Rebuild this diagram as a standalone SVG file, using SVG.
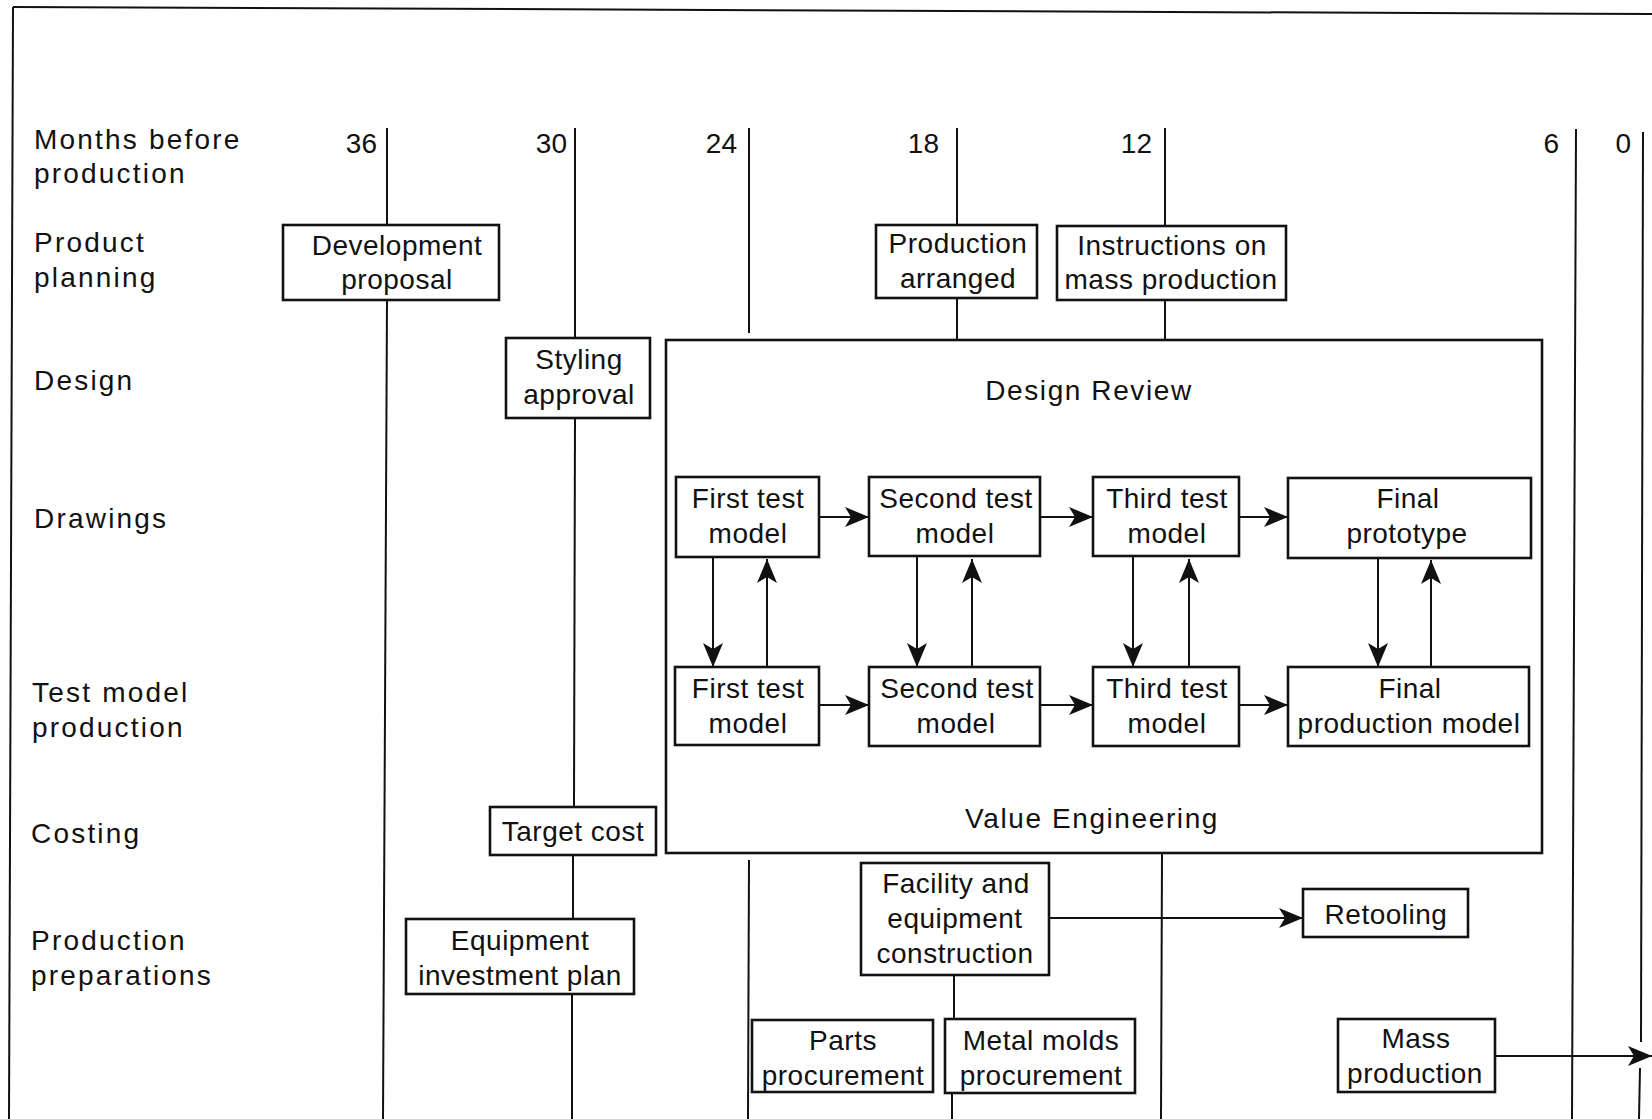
<svg xmlns="http://www.w3.org/2000/svg" width="1652" height="1119" viewBox="0 0 1652 1119">
<style>
.lbl{font-family:"Liberation Sans",Arial,sans-serif;font-size:28px;letter-spacing:2.2px;fill:#111}
.num{font-family:"Liberation Sans",Arial,sans-serif;font-size:28px;fill:#111;text-anchor:end}
.t{font-family:"Liberation Sans",Arial,sans-serif;font-size:28px;letter-spacing:0.5px;fill:#111;text-anchor:middle}
.hd{letter-spacing:1.6px}
.box{fill:#fff;stroke:#111;stroke-width:2.6}
.ln{stroke:#111;stroke-width:2;fill:none}
.ar{stroke:#111;stroke-width:2;fill:none;marker-end:url(#ah)}
</style>
<defs>
<marker id="ah" markerUnits="userSpaceOnUse" markerWidth="26" markerHeight="20" refX="24" refY="10" orient="auto"><path d="M0,0 L24,10 L0,20 L6,10 Z" fill="#111"/></marker>
</defs>
<rect x="0" y="0" width="1652" height="1119" fill="#fff"/>
<g id="frame">
<line class="ln" x1="13" y1="7" x2="1652" y2="14" stroke-width="2.5"/>
<line class="ln" x1="13" y1="7" x2="9" y2="1119" stroke-width="2.5"/>
</g>
<g id="row-labels">
<text class="lbl" x="34" y="149">Months before</text>
<text class="lbl" x="34" y="183">production</text>
<text class="lbl" x="34" y="252">Product</text>
<text class="lbl" x="34" y="287">planning</text>
<text class="lbl" x="34" y="390">Design</text>
<text class="lbl" x="34" y="528">Drawings</text>
<text class="lbl" x="32" y="702">Test model</text>
<text class="lbl" x="32" y="737">production</text>
<text class="lbl" x="31" y="843">Costing</text>
<text class="lbl" x="31" y="950">Production</text>
<text class="lbl" x="31" y="985">preparations</text>
</g>
<g id="month-labels">
<text class="num" x="377" y="153">36</text>
<text class="num" x="567" y="153">30</text>
<text class="num" x="737" y="153">24</text>
<text class="num" x="939" y="153">18</text>
<text class="num" x="1152" y="153">12</text>
<text class="num" x="1559" y="153">6</text>
<text class="num" x="1631" y="153">0</text>
</g>
<g id="connectors">
<line class="ln" x1="387" y1="128" x2="387" y2="224"/>
<line class="ln" x1="387" y1="300" x2="383" y2="1119"/>
<line class="ln" x1="575" y1="128" x2="575" y2="338"/>
<line class="ln" x1="575" y1="418" x2="574" y2="807"/>
<line class="ln" x1="573" y1="855" x2="573" y2="919"/>
<line class="ln" x1="572" y1="994" x2="572" y2="1119"/>
<line class="ln" x1="749" y1="128" x2="749" y2="333"/>
<line class="ln" x1="749" y1="860" x2="748" y2="1119"/>
<line class="ln" x1="957" y1="128" x2="957" y2="225"/>
<line class="ln" x1="957" y1="298" x2="957" y2="340"/>
<line class="ln" x1="954" y1="975" x2="954" y2="1019"/>
<line class="ln" x1="952" y1="1093" x2="952" y2="1119"/>
<line class="ln" x1="1165" y1="128" x2="1165" y2="226"/>
<line class="ln" x1="1165" y1="300" x2="1165" y2="340"/>
<line class="ln" x1="1162" y1="853" x2="1161" y2="1119"/>
<line class="ln" x1="1576" y1="129" x2="1572" y2="1119"/>
<line class="ln" x1="1643" y1="132" x2="1641" y2="1042"/>
<line class="ln" x1="1640" y1="1068" x2="1639" y2="1119"/>
<line class="ar" x1="819" y1="517" x2="869" y2="517"/>
<line class="ar" x1="1040" y1="517" x2="1093" y2="517"/>
<line class="ar" x1="1239" y1="517" x2="1288" y2="517"/>
<line class="ar" x1="819" y1="705" x2="869" y2="705"/>
<line class="ar" x1="1040" y1="705" x2="1093" y2="705"/>
<line class="ar" x1="1239" y1="705" x2="1288" y2="705"/>
<line class="ar" x1="713" y1="557" x2="713" y2="667"/>
<line class="ar" x1="767" y1="667" x2="767" y2="559"/>
<line class="ar" x1="917" y1="556" x2="917" y2="667"/>
<line class="ar" x1="972" y1="667" x2="972" y2="559"/>
<line class="ar" x1="1133" y1="556" x2="1133" y2="667"/>
<line class="ar" x1="1189" y1="667" x2="1189" y2="559"/>
<line class="ar" x1="1378" y1="558" x2="1378" y2="667"/>
<line class="ar" x1="1431" y1="667" x2="1431" y2="560"/>
<line class="ar" x1="1049" y1="918" x2="1303" y2="918"/>
<line class="ar" x1="1495" y1="1056" x2="1652" y2="1056"/>
</g>
<g id="design-review">
<rect x="666" y="340" width="876" height="513" fill="none" stroke="#111" stroke-width="2.6"/>
<text class="t hd" x="1089" y="400">Design Review</text>
<text class="t hd" x="1092" y="828">Value Engineering</text>
</g>
<g id="development-proposal">
<rect class="box" x="283" y="225" width="216" height="75"/>
<text class="t" x="397" y="255">Development</text>
<text class="t" x="397" y="289">proposal</text>
</g>
<g id="production-arranged">
<rect class="box" x="876" y="225" width="161" height="73"/>
<text class="t" x="958" y="253">Production</text>
<text class="t" x="958" y="288">arranged</text>
</g>
<g id="instructions-mass-production">
<rect class="box" x="1057" y="226" width="229" height="74"/>
<text class="t" x="1172" y="255">Instructions on</text>
<text class="t" x="1171" y="289">mass production</text>
</g>
<g id="styling-approval">
<rect class="box" x="506" y="338" width="144" height="80"/>
<text class="t" x="579" y="369">Styling</text>
<text class="t" x="579" y="404">approval</text>
</g>
<g id="first-test-drawing">
<rect class="box" x="676" y="477" width="143" height="80"/>
<text class="t" x="748" y="508">First test</text>
<text class="t" x="748" y="543">model</text>
</g>
<g id="second-test-drawing">
<rect class="box" x="869" y="477" width="171" height="79"/>
<text class="t" x="956" y="508">Second test</text>
<text class="t" x="955" y="543">model</text>
</g>
<g id="third-test-drawing">
<rect class="box" x="1093" y="477" width="146" height="79"/>
<text class="t" x="1167" y="508">Third test</text>
<text class="t" x="1167" y="543">model</text>
</g>
<g id="final-prototype">
<rect class="box" x="1288" y="478" width="243" height="80"/>
<text class="t" x="1408" y="508">Final</text>
<text class="t" x="1407" y="543">prototype</text>
</g>
<g id="first-test-model">
<rect class="box" x="675" y="667" width="144" height="78"/>
<text class="t" x="748" y="698">First test</text>
<text class="t" x="748" y="733">model</text>
</g>
<g id="second-test-model">
<rect class="box" x="869" y="667" width="171" height="79"/>
<text class="t" x="957" y="698">Second test</text>
<text class="t" x="956" y="733">model</text>
</g>
<g id="third-test-model">
<rect class="box" x="1093" y="667" width="146" height="79"/>
<text class="t" x="1167" y="698">Third test</text>
<text class="t" x="1167" y="733">model</text>
</g>
<g id="final-production-model">
<rect class="box" x="1288" y="667" width="241" height="79"/>
<text class="t" x="1410" y="698">Final</text>
<text class="t" x="1409" y="733">production model</text>
</g>
<g id="target-cost">
<rect class="box" x="490" y="807" width="166" height="48"/>
<text class="t" x="573" y="841">Target cost</text>
</g>
<g id="equipment-investment-plan">
<rect class="box" x="406" y="919" width="228" height="75"/>
<text class="t" x="520" y="950">Equipment</text>
<text class="t" x="520" y="985">investment plan</text>
</g>
<g id="facility-construction">
<rect class="box" x="861" y="863" width="188" height="112"/>
<text class="t" x="956" y="893">Facility and</text>
<text class="t" x="955" y="928">equipment</text>
<text class="t" x="955" y="963">construction</text>
</g>
<g id="retooling">
<rect class="box" x="1303" y="889" width="165" height="48"/>
<text class="t" x="1386" y="924">Retooling</text>
</g>
<g id="parts-procurement">
<rect class="box" x="752" y="1020" width="181" height="72"/>
<text class="t" x="843" y="1050">Parts</text>
<text class="t" x="843" y="1085">procurement</text>
</g>
<g id="metal-molds-procurement">
<rect class="box" x="945" y="1019" width="190" height="74"/>
<text class="t" x="1041" y="1050">Metal molds</text>
<text class="t" x="1041" y="1085">procurement</text>
</g>
<g id="mass-production">
<rect class="box" x="1338" y="1019" width="157" height="73"/>
<text class="t" x="1416" y="1048">Mass</text>
<text class="t" x="1415" y="1083">production</text>
</g>
</svg>
